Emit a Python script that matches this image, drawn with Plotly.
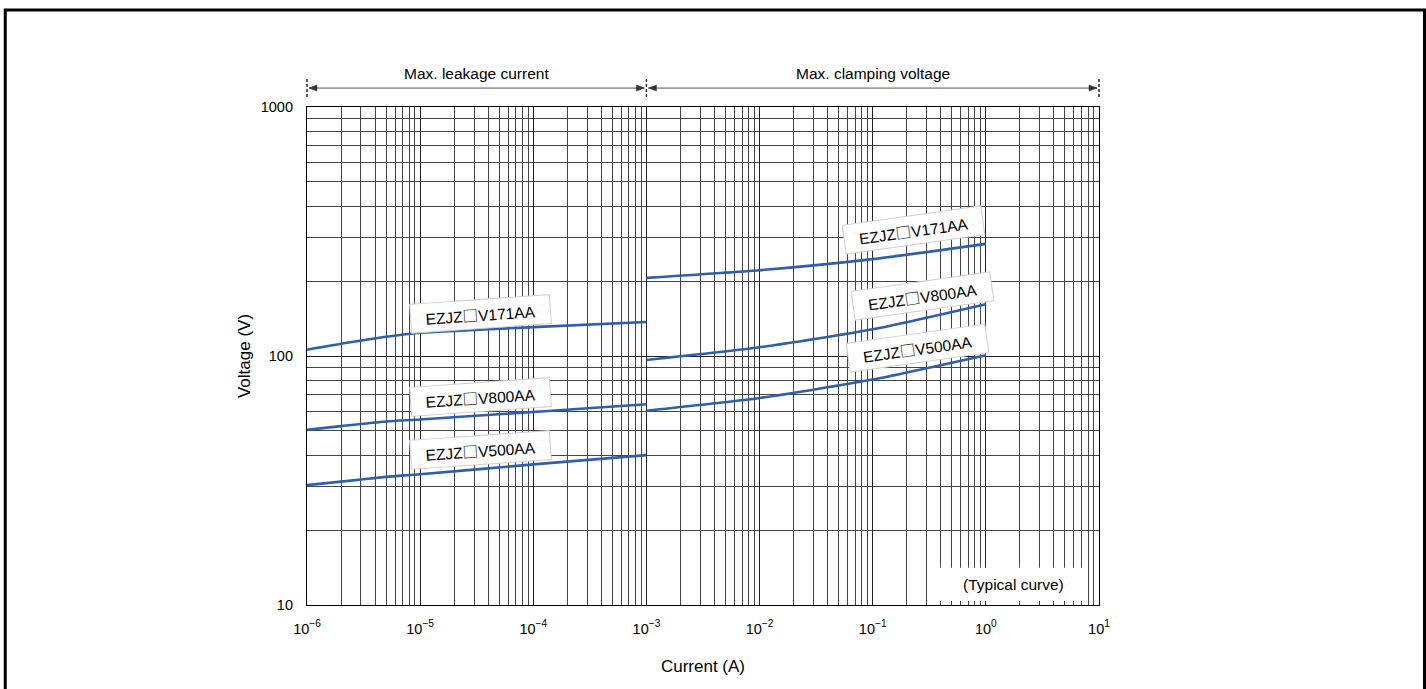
import plotly.graph_objects as go

# ---------------- data ----------------
left_current = [1e-6, 2e-6, 5e-6, 1e-5, 1e-4, 1e-3]
left_v171 = [106, 112, 119.5, 124, 130.6, 137]
left_v800 = [50.5, 52.3, 54.6, 55.6, 59.6, 64]
left_v500 = [30.3, 31.3, 32.7, 33.5, 36.7, 40]

right_current = [1e-3, 1e-2, 1e-1, 1]
right_v171 = [206, 221, 245, 282]
right_v800 = [96.4, 108.4, 128, 161.5]
right_v500 = [60.3, 67.8, 80.4, 100.7]

series_names = ["EZJZ□V171AA", "EZJZ□V800AA", "EZJZ□V500AA"]
x_ticks = [1e-6, 1e-5, 1e-4, 1e-3, 1e-2, 1e-1, 1, 10]
x_tick_text = ["10<sup>−6</sup>", "10<sup>−5</sup>", "10<sup>−4</sup>", "10<sup>−3</sup>",
               "10<sup>−2</sup>", "10<sup>−1</sup>", "10<sup>0</sup>", "10<sup>1</sup>"]
y_ticks = [10, 100, 1000]
y_tick_text = ["10", "100", "1000"]
region_titles = ["Max. leakage current", "Max. clamping voltage"]
note_text = "(Typical curve)"

LINE = "#2f5ead"
FONT = "Liberation Sans, Arial, sans-serif"
SQ = '<span style="font-family:\'Noto Sans CJK JP\'">□</span>'

fig = go.Figure()
for ys in (left_v171, left_v800, left_v500):
    fig.add_trace(go.Scatter(x=left_current, y=ys, mode="lines",
                             line=dict(color=LINE, width=2.6, shape="spline", smoothing=0.7),
                             showlegend=False, hoverinfo="skip"))
for ys in (right_v171, right_v800, right_v500):
    fig.add_trace(go.Scatter(x=right_current, y=ys, mode="lines",
                             line=dict(color=LINE, width=2.6, shape="spline", smoothing=0.6),
                             showlegend=False, hoverinfo="skip"))

x_minor = [k * 10 ** d for d in range(-6, 1) for k in range(2, 10)]
y_minor = [k * 10 ** d for d in range(1, 3) for k in range(2, 10)]

fig.update_xaxes(type="log", range=[-6, 1], tickvals=x_ticks, ticktext=x_tick_text,
                 showgrid=True, gridcolor="#222", gridwidth=1,
                 minor=dict(tickvals=x_minor, showgrid=True, gridcolor="#444", gridwidth=1, ticks=""),
                 showline=True, linecolor="black", linewidth=1.2, mirror=True,
                 ticks="", zeroline=False, ticklabelstandoff=10,
                 tickfont=dict(family=FONT, size=14.5, color="black"),
                 title=dict(text="Current (A)", font=dict(family=FONT, size=17, color="black"), standoff=24))
fig.update_yaxes(type="log", range=[1, 3], tickvals=y_ticks, ticktext=y_tick_text,
                 showgrid=True, gridcolor="#222", gridwidth=1,
                 minor=dict(tickvals=y_minor, showgrid=True, gridcolor="#444", gridwidth=1, ticks=""),
                 showline=True, linecolor="black", linewidth=1.2, mirror=True,
                 ticks="", zeroline=False, ticklabelstandoff=10,
                 tickfont=dict(family=FONT, size=14.5, color="black"),
                 title=dict(text="Voltage (V)", font=dict(family=FONT, size=17, color="black"), standoff=5))

PX = 1 / 792.0
PY = 1 / 498.0
YA = 1.038
shapes = []
for xp in (0, 3 / 7, 1):
    shapes.append(dict(type="line", xref="paper", yref="paper", x0=xp, x1=xp, y0=1.02, y1=1.056,
                       line=dict(color="black", width=1.3, dash="3px,2px")))
shapes.append(dict(type="line", xref="paper", yref="paper", x0=2 * PX, x1=3 / 7 - 2 * PX, y0=YA, y1=YA,
                   line=dict(color="#555", width=1)))
shapes.append(dict(type="line", xref="paper", yref="paper", x0=3 / 7 + 2 * PX, x1=1 - 2 * PX, y0=YA, y1=YA,
                   line=dict(color="#555", width=1)))
for xe, d in ((0, 1), (3 / 7, -1), (3 / 7, 1), (1, -1)):
    tip = xe + d * 2 * PX
    back = xe + d * 10 * PX
    shapes.append(dict(type="path", xref="paper", yref="paper",
                       path=f"M {tip} {YA} L {back} {YA + 3 * PY} L {back} {YA - 3 * PY} Z",
                       fillcolor="#333", line=dict(color="#333", width=0.5)))
shapes.append(dict(type="rect", xref="paper", yref="paper", x0=0.784, x1=0.982, y0=0.008, y1=0.075,
                   fillcolor="white", line=dict(width=0), layer="above"))
shapes.append(dict(type="rect", xref="paper", yref="paper", x0=-0.381, x1=1.411, y0=-0.4, y1=1.195,
                   line=dict(color="black", width=3), fillcolor="rgba(0,0,0,0)"))

annotations = []
for i, xc in enumerate((1.5 / 7, 5 / 7)):
    annotations.append(dict(xref="paper", yref="paper", x=xc, y=1.068, text=region_titles[i],
                            xanchor="center", yanchor="middle", showarrow=False,
                            font=dict(family=FONT, size=15.5, color="black")))

label_pos = [(-4.47, 2.169, -4), (-4.47, 1.835, -4), (-4.47, 1.622, -4),
             (-0.64, 2.505, -8), (-0.56, 2.240, -8), (-0.60, 2.032, -8)]
for i, (lx, ly, ang) in enumerate(label_pos):
    annotations.append(dict(xref="x", yref="y", x=lx, y=ly, text=series_names[i % 3].replace("□", SQ),
                            showarrow=False, textangle=ang, width=131, height=20,
                            xanchor="center", yanchor="middle",
                            bgcolor="white", bordercolor="#d0d0d0", borderwidth=1,
                            borderpad=4, font=dict(family=FONT, size=15.5, color="black")))

annotations.append(dict(xref="paper", yref="paper", x=0.892, y=0.041, text=note_text, showarrow=False,
                        xanchor="center", yanchor="middle",
                        font=dict(family=FONT, size=15.5, color="black")))

fig.update_layout(width=1426, height=689, margin=dict(l=307, r=327, t=107, b=84),
                  paper_bgcolor="white", plot_bgcolor="white",
                  shapes=shapes, annotations=annotations, showlegend=False)

fig.write_html("out.html", config={"displayModeBar": False},
               post_script="document.body.style.margin='0';document.body.style.overflow='hidden';")
